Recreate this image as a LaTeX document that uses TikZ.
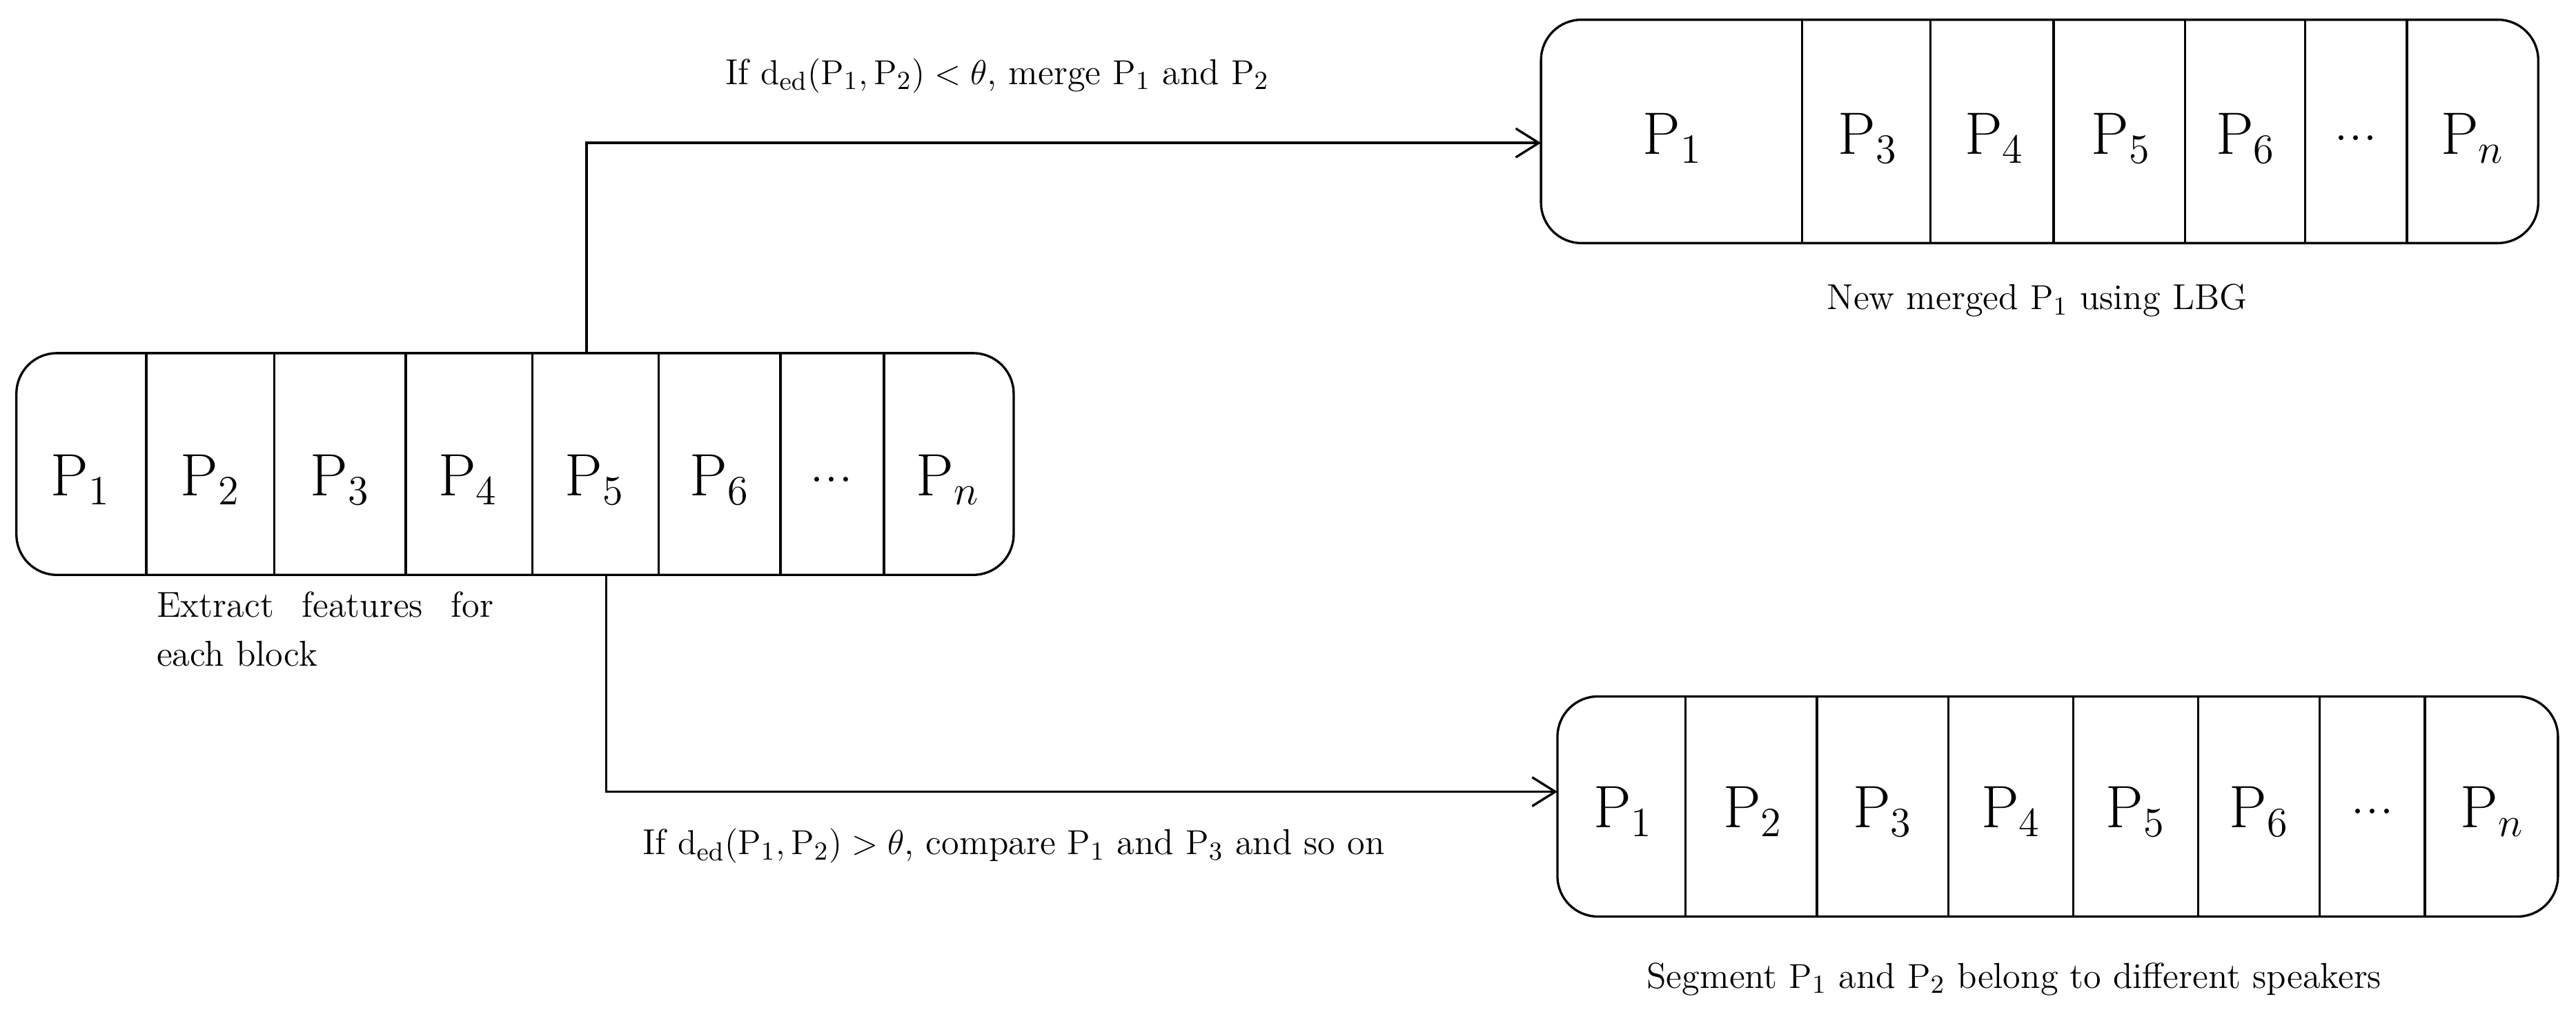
\documentclass[tikz,border=0pt]{standalone}
\usetikzlibrary{arrows.meta}
\newcommand{\PP}[1]{\mathrm{P}_{#1}}
\begin{document}
\begin{tikzpicture}[x=0.02cm,y=-0.02cm]
\tikzset{ >={Straight Barb[length=8pt,width=10pt]}, box/.style={draw, thick, rounded corners=14pt, inner sep=0pt},
  cell/.style={font=\fontsize{20}{24}\selectfont}, lbl/.style={font=\fontsize{12.5}{15}\selectfont} }
\useasboundingbox (0,0) rectangle (1568,620);

% blocos de entrada
\draw [box] (10,215) rectangle (617,350);
\foreach \x in {89,167,247,324,401,475,538} \draw [thick] (\x,215) -- (\x,350);
\node [cell] (a1) at (49,292)  {$\PP1$};
\node [cell] (a2) at (128,292) {$\PP2$};
\node [cell] (a3) at (207,292) {$\PP3$};
\node [cell] (a4) at (285,292) {$\PP4$};
\node [cell] (a5) at (362,292) {$\PP5$};
\node [cell] (a6) at (438,292) {$\PP6$};
\node [cell] (a7) at (506,292) {...};
\node [cell] (a8) at (577,292) {$\PP{n}$};
\node [lbl, align=left, anchor=north west, inner sep=0pt] (ext) at (95,360)
  {\makebox[4.1cm][s]{Extract features for}\\[2pt] each block};

% blocos unidos
\draw [box] (938,12) rectangle (1545,148);
\foreach \x in {1097,1175,1250,1330,1403,1465} \draw [thick] (\x,12) -- (\x,148);
\node [cell] (b1) at (1018,84) {$\PP1$};
\node [cell] (b3) at (1137,84) {$\PP3$};
\node [cell] (b4) at (1214,84) {$\PP4$};
\node [cell] (b5) at (1291,84) {$\PP5$};
\node [cell] (b6) at (1367,84) {$\PP6$};
\node [cell] (b7) at (1434,84) {...};
\node [cell] (b8) at (1505,84) {$\PP{n}$};
\node [lbl] (new) at (1240,183) {New merged $\PP1$ using LBG};

% blocos separados
\draw [box] (948,424) rectangle (1557,558);
\foreach \x in {1026,1106,1186,1262,1338,1412,1476} \draw [thick] (\x,424) -- (\x,558);
\node [cell] (c1) at (988,494)  {$\PP1$};
\node [cell] (c2) at (1067,494) {$\PP2$};
\node [cell] (c3) at (1146,494) {$\PP3$};
\node [cell] (c4) at (1224,494) {$\PP4$};
\node [cell] (c5) at (1300,494) {$\PP5$};
\node [cell] (c6) at (1375,494) {$\PP6$};
\node [cell] (c7) at (1444,494) {...};
\node [cell] (c8) at (1517,494) {$\PP{n}$};
\node [lbl] (seg) at (1226,596) {Segment $\PP1$ and $\PP2$ belong to different speakers};

% setas
\coordinate (s1) at (357,215);
\coordinate (e1) at (938,87);
\coordinate (s2) at (369,350);
\coordinate (e2) at (948,482);
\draw [->, thick] (s1) |- (e1);
\draw [->, thick] (s2) |- (e2);
\node [lbl] (if1) at (607,46)  {If $\mathrm{d}_{\mathrm{ed}}(\PP1,\PP2)<\theta$, merge $\PP1$ and $\PP2$};
\node [lbl] (if2) at (617,515) {If $\mathrm{d}_{\mathrm{ed}}(\PP1,\PP2)>\theta$, compare $\PP1$ and $\PP3$ and so on};

\end{tikzpicture}
\end{document}
